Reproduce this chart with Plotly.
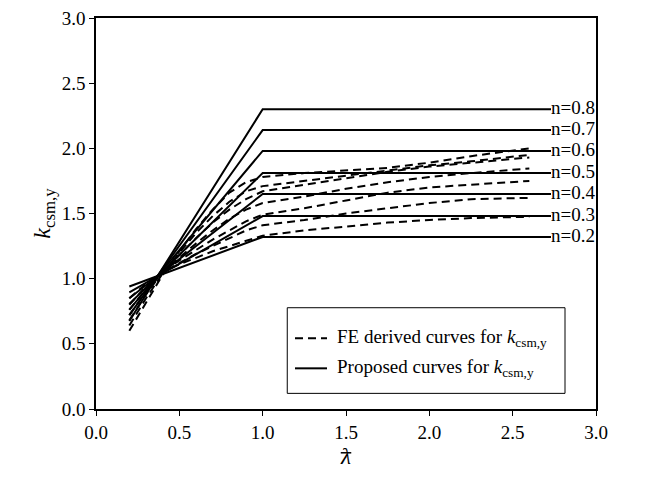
import plotly.graph_objects as go

# ---- data ----
n_values = [0.2, 0.3, 0.4, 0.5, 0.6, 0.7, 0.8]
n_labels = ["n=0.2", "n=0.3", "n=0.4", "n=0.5", "n=0.6", "n=0.7", "n=0.8"]

# proposed (solid) curves: value at lambda=0.2, value at lambda=1.0 (then flat)
prop_x = [0.2, 1.0, 2.73]
prop_start = [0.94, 0.895, 0.85, 0.806, 0.762, 0.72, 0.675]
prop_plateau = [1.32, 1.48, 1.65, 1.81, 1.98, 2.14, 2.30]

# FE derived (dashed) curves
fe_x = [0.2, 0.3, 0.4, 0.5, 0.6, 0.7, 0.8, 0.9, 1.0, 1.25, 1.5, 1.75, 2.0, 2.25, 2.6]
fe_n02 = [0.85, 0.96, 1.05, 1.11, 1.16, 1.21, 1.25, 1.29, 1.33, 1.37, 1.40, 1.43, 1.45, 1.465, 1.475]
fe_n03 = [0.80, 0.94, 1.05, 1.12, 1.19, 1.25, 1.31, 1.37, 1.41, 1.45, 1.50, 1.54, 1.58, 1.61, 1.62]
fe_n04 = [0.76, 0.92, 1.05, 1.14, 1.22, 1.30, 1.37, 1.44, 1.49, 1.54, 1.60, 1.66, 1.70, 1.72, 1.75]
fe_n05 = [0.72, 0.90, 1.05, 1.16, 1.27, 1.37, 1.46, 1.53, 1.58, 1.63, 1.69, 1.74, 1.78, 1.81, 1.845]
fe_n06 = [0.68, 0.88, 1.05, 1.18, 1.31, 1.43, 1.53, 1.61, 1.67, 1.72, 1.77, 1.82, 1.86, 1.89, 1.93]
fe_n07 = [0.64, 0.85, 1.04, 1.20, 1.35, 1.48, 1.59, 1.67, 1.71, 1.75, 1.79, 1.83, 1.87, 1.90, 1.95]
fe_n08 = [0.60, 0.82, 1.03, 1.21, 1.38, 1.53, 1.66, 1.74, 1.78, 1.81, 1.83, 1.85, 1.89, 1.94, 2.00]
fe_series = [fe_n02, fe_n03, fe_n04, fe_n05, fe_n06, fe_n07, fe_n08]

x_ticks = [0.0, 0.5, 1.0, 1.5, 2.0, 2.5, 3.0]
y_ticks = [0.0, 0.5, 1.0, 1.5, 2.0, 2.5, 3.0]

legend_labels = ["FE derived curves for <i>k</i><sub>csm,y</sub>",
                 "Proposed curves for <i>k</i><sub>csm,y</sub>"]

FONT = "Liberation Serif"
DASH = "8px,5px"
FS = 19

fig = go.Figure()

for ys in fe_series:
    fig.add_trace(go.Scatter(
        x=fe_x, y=ys, mode="lines",
        line=dict(color="black", width=2, dash=DASH),
        showlegend=False, hoverinfo="skip"))

for i in range(len(n_values)):
    fig.add_trace(go.Scatter(
        x=prop_x, y=[prop_start[i], prop_plateau[i], prop_plateau[i]], mode="lines",
        line=dict(color="black", width=2),
        showlegend=False, hoverinfo="skip"))

# n labels as a text trace at the end of the proposed curves (not clipped)
fig.add_trace(go.Scatter(
    x=[prop_x[-1]] * len(n_labels), y=prop_plateau, mode="text",
    text=n_labels, textposition="middle right", cliponaxis=False,
    textfont=dict(family=FONT, size=FS, color="black"),
    showlegend=False, hoverinfo="skip"))

# ---- manual legend box (paper coordinates) ----
lx0, lx1, ly0, ly1 = 0.3825, 0.938, 0.04, 0.259
fig.add_shape(type="rect", xref="paper", yref="paper", x0=lx0, x1=lx1, y0=ly0, y1=ly1,
              line=dict(color="black", width=1), fillcolor="white", layer="above")
rows_y = [0.181, 0.104]
styles = [DASH, "solid"]
for ry, st, lab in zip(rows_y, styles, legend_labels):
    fig.add_shape(type="line", xref="paper", yref="paper", x0=0.398, x1=0.462, y0=ry, y1=ry,
                  line=dict(color="black", width=2, dash=st), layer="above")
    fig.add_annotation(xref="paper", yref="paper", x=0.478, y=ry, text=lab, showarrow=False,
                       xanchor="left", yanchor="middle",
                       font=dict(family=FONT, size=FS, color="black"))

# overbar for lambda
fig.add_shape(type="line", xref="paper", yref="paper", x0=0.4895, x1=0.5105, y0=-0.112, y1=-0.112,
              line=dict(color="black", width=1.5))

axis_common = dict(showline=True, linecolor="black", linewidth=1.5, mirror=True,
                   ticks="outside", ticklen=5, tickwidth=1.2, tickcolor="black",
                   showgrid=False, zeroline=False, automargin=False,
                   ticklabeloverflow="allow",
                   tickfont=dict(family=FONT, size=FS, color="black"))

fig.update_xaxes(range=[0, 3], tickvals=x_ticks, ticktext=[f"{v:.1f}" for v in x_ticks],
                 title=dict(text="<i>λ</i>", font=dict(family=FONT, size=23, color="black"),
                            standoff=10),
                 **axis_common)
fig.update_yaxes(range=[0, 3], tickvals=y_ticks, ticktext=[f"{v:.1f}" for v in y_ticks],
                 title=dict(text="<i>k</i><sub>csm,y</sub>", font=dict(family=FONT, size=24, color="black"),
                            standoff=4),
                 **axis_common)

fig.update_layout(
    width=632, height=461,
    margin=dict(l=88, r=44, t=10, b=60),
    plot_bgcolor="white", paper_bgcolor="white",
    font=dict(family=FONT, color="black"),
    showlegend=False,
)

fig.write_html("out.html")
